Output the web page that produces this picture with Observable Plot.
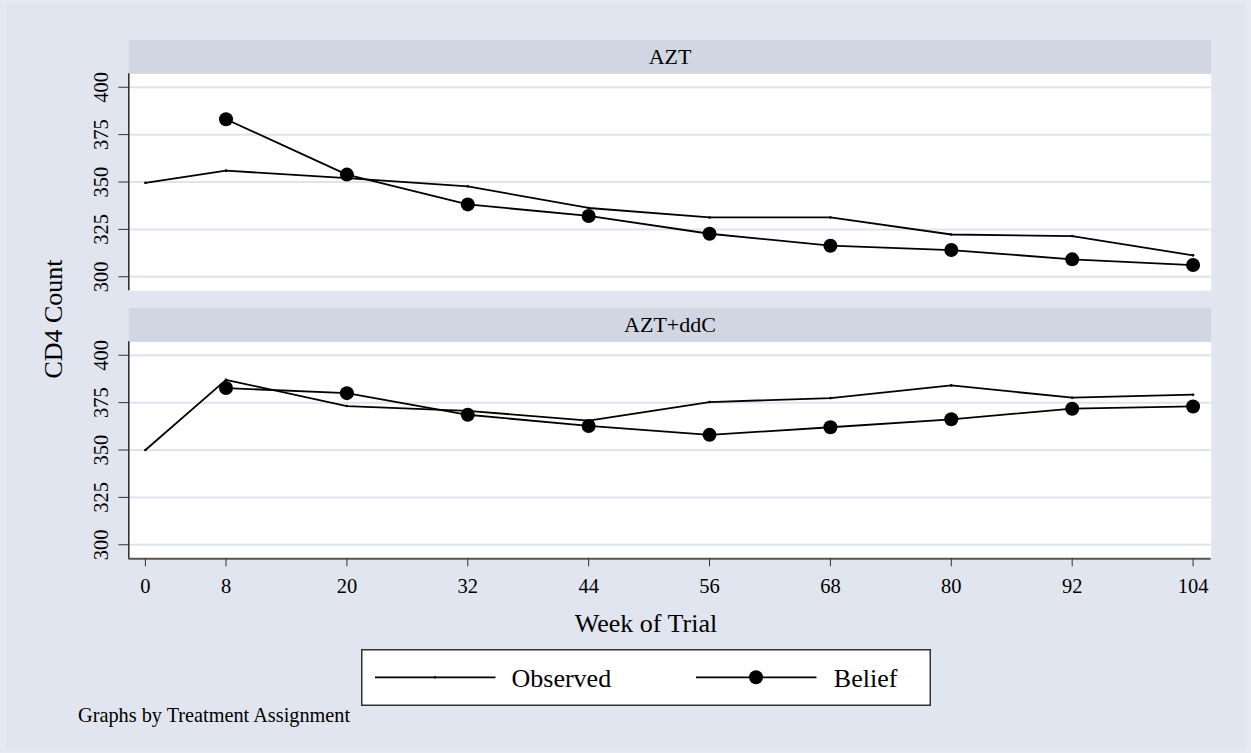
<!DOCTYPE html>
<html>
<head>
<meta charset="utf-8">
<script src="https://cdn.jsdelivr.net/npm/d3@7"></script>
<script src="https://cdn.jsdelivr.net/npm/@observablehq/plot@0.6"></script>
<style>
  html, body { margin: 0; padding: 0; background: #e6e9f1; }
  #page { position: relative; width: 1251px; height: 753px; overflow: hidden;
          font-family: "Liberation Serif", "Times New Roman", serif; color: #000; }
  #inner { position: absolute; left: 6px; top: 4px; right: 6px; bottom: 4px; background: #e1e5ef; }
  #chart { position: absolute; left: 0; top: 0; }
  #ylabel { position: absolute; left: 54px; top: 319px; font-size: 26px; line-height: 1;
            white-space: nowrap; transform: translate(-50%, -50%) rotate(-90deg); }
  #xlabel { position: absolute; left: 646px; top: 611px; font-size: 26px; line-height: 1;
            white-space: nowrap; transform: translateX(-50%); }
  #legend { position: absolute; left: 361px; top: 649px; }
  #note { position: absolute; left: 78px; top: 705px; font-size: 20.3px; line-height: 1; white-space: nowrap; }
</style>
</head>
<body>
<div id="page">
  <div id="inner"></div>
  <div id="chart"></div>
  <div id="ylabel">CD4 Count</div>
  <div id="xlabel">Week of Trial</div>
  <div id="legend"></div>
  <div id="note">Graphs by Treatment Assignment</div>
</div>
<script>
// Study weeks at which CD4 counts were recorded
const weeks = [0, 8, 20, 32, 44, 56, 68, 80, 92, 104];
const panels = ["AZT", "AZT+ddC"];
const seriesNames = ["Observed", "Belief"];
const yTicks = [300, 325, 350, 375, 400];

// Mean CD4 count by week, per treatment arm (belief starts at week 8)
const aztObserved = [349.6, 356.0, 352.1, 347.7, 336.3, 331.3, 331.3, 322.3, 321.5, 311.3];
const aztBelief   = [null, 383.1, 353.9, 338.2, 332.1, 322.7, 316.4, 314.1, 309.2, 306.2];
const ddcObserved = [350.0, 387.0, 373.2, 370.7, 365.5, 375.3, 377.4, 384.1, 377.6, 379.2];
const ddcBelief   = [null, 382.7, 380.0, 368.6, 362.7, 358.0, 362.0, 366.2, 371.8, 373.0];

function rows(panel, values) {
  return weeks.map((week, i) => ({panel, week, cd4: values[i]})).filter(d => d.cd4 != null);
}
const observed = [...rows("AZT", aztObserved), ...rows("AZT+ddC", ddcObserved)];
const belief = [...rows("AZT", aztBelief), ...rows("AZT+ddC", ddcBelief)];

// Layout
const W = 1251, H = 605;
const mTop = 73.3, mBottom = H - 558.3, mLeft = 128.3, mRight = 40.3;
const bandH = 217;                       // height of each panel
const span = H - mTop - mBottom;
const pad = (span - 2 * bandH) / (span - bandH);
const stripH = 34;
const xDomain = [-1.65, 105.8];
const yDomain = [292.6, 407.1];
const serif = "Liberation Serif, Times New Roman, serif";

const chart = Plot.plot({
  width: W, height: H,
  marginTop: mTop, marginBottom: mBottom, marginLeft: mLeft, marginRight: mRight,
  style: {background: "transparent", fontFamily: serif, fontSize: "20.5px", overflow: "visible", color: "#000"},
  x: {domain: xDomain},
  y: {domain: yDomain},
  fy: {domain: panels, paddingInner: pad, paddingOuter: 0, round: false, axis: null},
  marks: [
    Plot.frame({fill: "white"}),
    // panel header strips
    Plot.frame({fill: "#d1d7e2", insetTop: -stripH, insetBottom: bandH}),
    Plot.text(panels, {fy: d => d, text: d => d, frameAnchor: "top", lineAnchor: "middle", dy: -stripH / 2, fontSize: 22, fill: "#000"}),
    Plot.gridY(yTicks, {stroke: "#dfe3ee", strokeOpacity: 1, strokeWidth: 2}),
    Plot.ruleX([xDomain[0]], {stroke: "#333", strokeWidth: 1.6}),
    Plot.ruleY([yDomain[0]], {fy: ["AZT+ddC"], stroke: "#555", strokeWidth: 2}),
    Plot.axisY({ticks: yTicks, tickRotate: -90, tickSize: 10, tickPadding: 11, fontSize: 20.5, label: null, stroke: "#333"}),
    Plot.axisX({ticks: weeks, tickSize: 8, tickPadding: 12, fontSize: 20.5, label: null, stroke: "#333"}),
    Plot.line(observed, {x: "week", y: "cd4", fy: "panel", stroke: "black", strokeWidth: 1.8}),
    Plot.dot(observed, {x: "week", y: "cd4", fy: "panel", r: 1.3, fill: "black"}),
    Plot.line(belief, {x: "week", y: "cd4", fy: "panel", stroke: "black", strokeWidth: 1.8}),
    Plot.dot(belief, {x: "week", y: "cd4", fy: "panel", r: 7, fill: "black"})
  ]
});
document.getElementById("chart").appendChild(chart);

// Legend: line samples with their markers
const lw = 570, lh = 57;
const leg = d3.select("#legend").append("svg").attr("width", lw).attr("height", lh)
  .style("display", "block").style("font-family", serif);
leg.append("rect").attr("x", 0.75).attr("y", 0.75).attr("width", lw - 1.5).attr("height", lh - 1.5)
  .attr("fill", "white").attr("stroke", "#333").attr("stroke-width", 1.5);
const items = [
  {name: seriesNames[0], x0: 14, r: 1.3, tx: 150.5},
  {name: seriesNames[1], x0: 335, r: 7, tx: 472.8}
];
const midY = 28.3;
items.forEach(it => {
  leg.append("line").attr("x1", it.x0).attr("x2", it.x0 + 120.5).attr("y1", midY).attr("y2", midY)
    .attr("stroke", "black").attr("stroke-width", 1.8);
  leg.append("circle").attr("cx", it.x0 + 60).attr("cy", midY).attr("r", it.r).attr("fill", "black");
  leg.append("text").attr("x", it.tx).attr("y", 37.5).attr("font-size", 26).attr("fill", "black").text(it.name);
});
</script>
</body>
</html>
